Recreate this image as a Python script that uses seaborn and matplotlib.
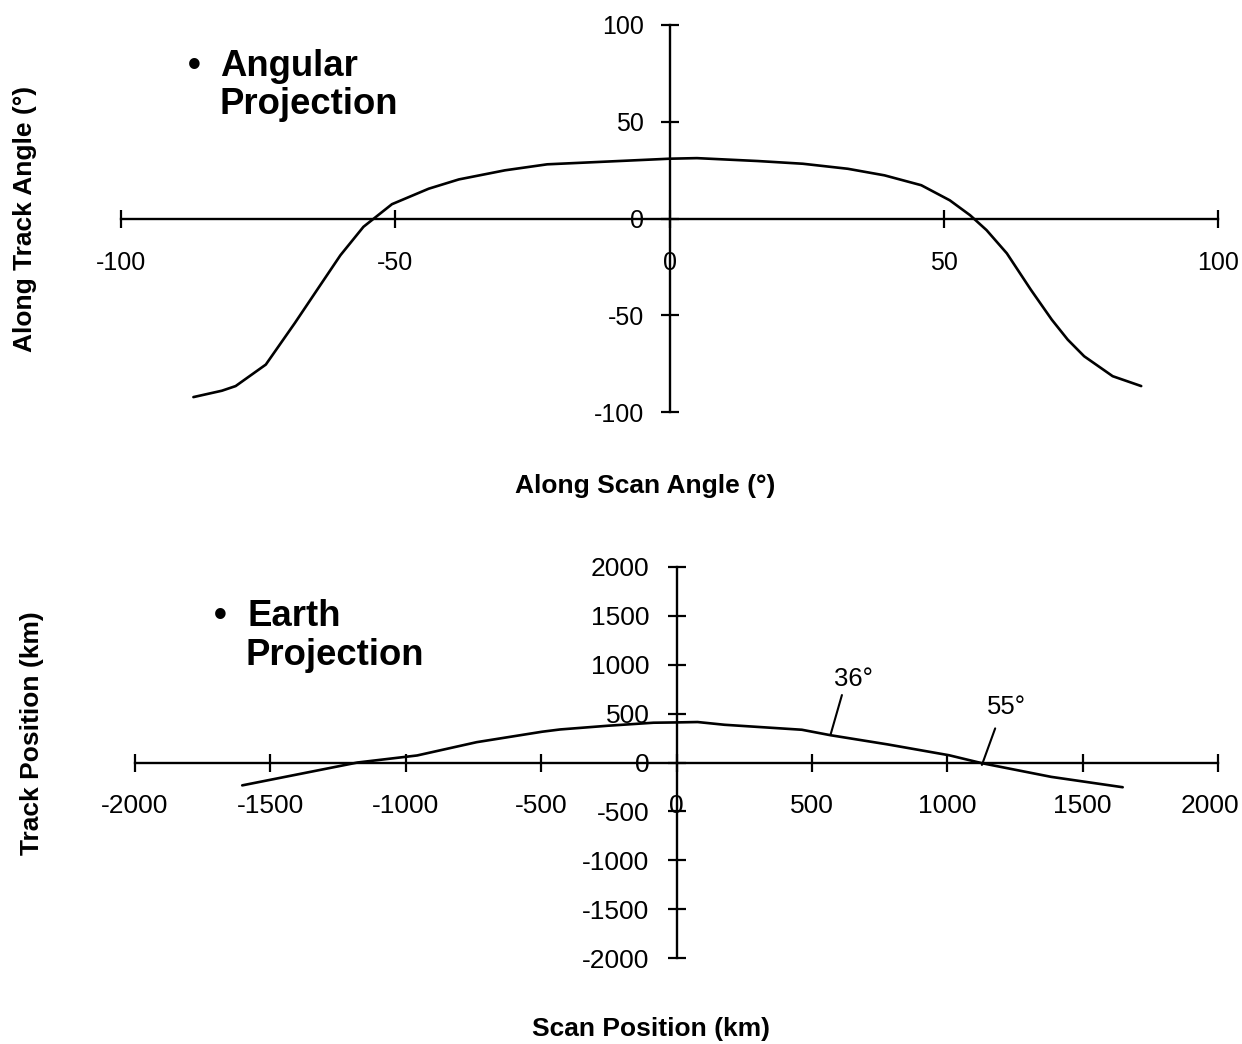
import matplotlib
matplotlib.use("Agg")
import matplotlib.pyplot as plt
import matplotlib.transforms as mtransforms
import seaborn as sns

# ---------------- data ----------------
scan_angle = [-86.8, -81.6, -79.1, -73.6, -68.3, -63.8, -60.0, -55.8, -50.6, -43.9,
              -38.4, -30.0, -22.3, 0.0, 5.0, 16.1, 24.3, 32.5, 39.2, 45.9,
              51.1, 54.8, 57.8, 61.5, 65.9, 69.7, 72.6, 75.6, 80.8, 86.0]
track_angle = [-92.3, -89.0, -86.6, -75.5, -54.0, -35.0, -19.0, -4.3, 7.4, 15.4,
               20.2, 24.9, 28.0, 30.9, 31.2, 29.7, 28.3, 25.7, 22.3, 17.2,
               9.4, 1.7, -6.0, -18.0, -36.9, -52.3, -62.6, -71.2, -81.5, -86.6]

scan_pos_km = [-1604, -1178, -958, -738, -496, -430, -254, -85, 0, 78,
               177, 463, 569, 780, 1007, 1128, 1384, 1648]
track_pos_km = [-234, 0, 72, 208, 315, 338, 376, 407, 410, 414,
                386, 335, 279, 185, 74, -7, -147, -253]

angle_ticks = [-100, -50, 0, 50, 100]
km_ticks = [-2000, -1500, -1000, -500, 0, 500, 1000, 1500, 2000]

# annotation labels: text, text position, leader start, leader end (data units)
annot_text = ["36°", "55°"]
annot_text_xy = [(652, 850), (1218, 565)]
annot_leader_from = [(611, 690), (1177, 349)]
annot_leader_to = [(569, 285), (1128, -25)]

# ---------------- style ----------------
sns.set_theme(style="white")
plt.rcParams["font.family"] = ["Liberation Sans", "DejaVu Sans"]
plt.rcParams["text.color"] = "black"

W, H = 1242, 1044
fig = plt.figure(figsize=(W / 100, H / 100), dpi=100)


def fx(px):
    return px / W


def fy(py):
    return 1 - py / H


ax1 = fig.add_axes([fx(121), fy(412), (1218 - 121) / W, (412 - 25) / H])
ax2 = fig.add_axes([fx(135), fy(958), (1218 - 135) / W, (958 - 567) / H])

sns.lineplot(x=scan_angle, y=track_angle, sort=False, estimator=None,
             color="black", linewidth=1.9, ax=ax1)
sns.lineplot(x=scan_pos_km, y=track_pos_km, sort=False, estimator=None,
             color="black", linewidth=1.9, ax=ax2)


def style_axes(ax, ticks, labelsize, xpad, ypad):
    ax.set_xlim(ticks[0], ticks[-1])
    ax.set_ylim(ticks[0], ticks[-1])
    ax.set_xticks(ticks)
    ax.set_yticks(ticks)
    ax.set_xticklabels([str(t) for t in ticks])
    ax.set_yticklabels([str(t) for t in ticks])
    ax.set_facecolor("none")
    for s in ["top", "right"]:
        ax.spines[s].set_visible(False)
    for s in ["left", "bottom"]:
        ax.spines[s].set_position("zero")
        ax.spines[s].set_color("black")
        ax.spines[s].set_linewidth(1.7)
    ax.tick_params(axis="both", which="major", bottom=True, left=True,
                   top=False, right=False, direction="inout", length=13,
                   width=1.6, colors="black", labelsize=labelsize)
    ax.tick_params(axis="x", pad=xpad)
    ax.tick_params(axis="y", pad=ypad)
    for lbl in ax.get_xticklabels() + ax.get_yticklabels():
        lbl.set_bbox(dict(facecolor="white", edgecolor="none", pad=0.0))
    ax.set_xlabel("")
    ax.set_ylabel("")
    ax.grid(False)


style_axes(ax1, angle_ticks, 18, 17, 12)
style_axes(ax2, km_ticks, 19, 16.5, 13)

# keep the right-most bottom tick label inside the figure (as in the reference)
last_lbl = ax2.get_xticklabels()[-1]
last_lbl.set_transform(last_lbl.get_transform()
                       + mtransforms.ScaledTranslation(-8 / 100, 0, fig.dpi_scale_trans))

for txt, txy, lfrom, lto in zip(annot_text, annot_text_xy, annot_leader_from, annot_leader_to):
    ax2.text(txy[0], txy[1], txt, ha="center", va="center", fontsize=18.5, color="black")
    ax2.annotate("", xy=lto, xytext=lfrom,
                 arrowprops=dict(arrowstyle="-", color="black", lw=1.5,
                                 shrinkA=0, shrinkB=0))

# panel titles
title_kw = dict(fontsize=26.3, fontweight="bold", va="baseline", color="black")
fig.text(fx(194), fy(76), "•", ha="center", **title_kw)
fig.text(fx(220), fy(76), "Angular", ha="left", **title_kw)
fig.text(fx(220), fy(114), "Projection", ha="left", **title_kw)

fig.text(fx(220), fy(626), "•", ha="center", **title_kw)
fig.text(fx(247), fy(626), "Earth", ha="left", **title_kw)
fig.text(fx(246), fy(665), "Projection", ha="left", **title_kw)

# axis titles
lab_kw = dict(fontsize=19, fontweight="bold", ha="center", va="center", color="black")
fig.text(fx(645), fy(486), "Along Scan Angle (°)", **lab_kw)
fig.text(fx(25), fy(219), "Along Track Angle (°)", rotation=90, **lab_kw)
fig.text(fx(651), fy(1029), "Scan Position (km)", **lab_kw)
fig.text(fx(32), fy(733), "Track Position (km)", rotation=90, **lab_kw)

fig.savefig("out.png", dpi=100, facecolor="white")
